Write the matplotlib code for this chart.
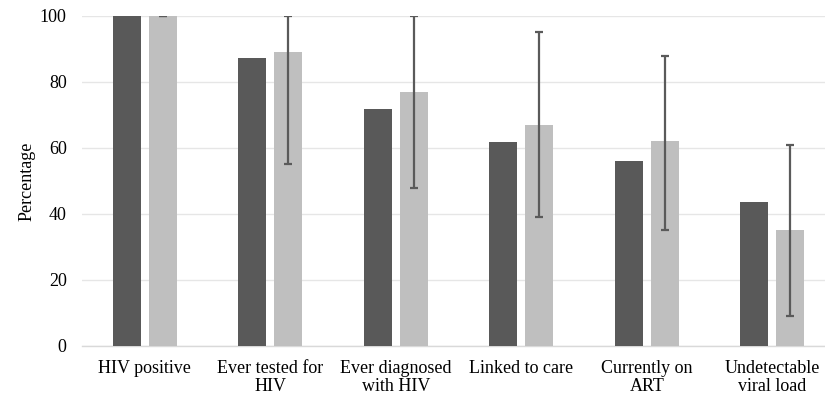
import matplotlib
matplotlib.use("Agg")
import matplotlib.pyplot as plt
import numpy as np

categories = ["HIV positive", "Ever tested for\nHIV", "Ever diagnosed\nwith HIV",
              "Linked to care", "Currently on\nART", "Undetectable\nviral load"]
series_a = [100, 87.3, 71.7, 61.7, 56.1, 43.5]
series_b = [100, 89, 77, 67, 62, 35]
err_low = [100, 55, 48, 39, 35, 9]
err_high = [100, 100, 100, 95, 88, 61]
yticks = [0, 20, 40, 60, 80, 100]

plt.rcParams['font.family'] = ['Liberation Serif', 'DejaVu Serif']

fig = plt.figure(figsize=(8.25, 3.96), dpi=100)
ax = fig.add_axes([82/825, (396-346)/396, (825-82)/825, (346-16)/396])

x = np.arange(len(categories))
w = 0.223
off = 0.145
ax.bar(x - off, series_a, w, color="#595959", zorder=3)
ax.bar(x + off, series_b, w, color="#BFBFBF", zorder=3)
b = np.array(series_b)
yerr = np.vstack([b - np.array(err_low), np.array(err_high) - b])
ax.errorbar(x + off, series_b, yerr=yerr, fmt='none', ecolor="#5a5a5a",
            elinewidth=1.6, capsize=3, capthick=1.6, zorder=4)

fs = 13
ax.set_xlim(-0.5, 5.42)
ax.set_ylim(0, 100)
ax.set_yticks(yticks)
ax.set_xticks(x)
ax.set_xticklabels(categories, fontsize=fs, linespacing=1.12)
ax.tick_params(axis='both', length=0, labelsize=fs, colors="#000000")
ax.tick_params(axis='x', pad=10)
ax.tick_params(axis='y', pad=11)
ax.yaxis.grid(True, color="#E6E6E6", linewidth=1, zorder=0)
ax.set_axisbelow(True)
for s in ["top", "right", "left"]:
    ax.spines[s].set_visible(False)
ax.spines["bottom"].set_color("#D9D9D9")
ax.spines["bottom"].set_linewidth(1)
ax.set_ylabel("Percentage", fontsize=fs, labelpad=3)

fig.savefig("out.png", dpi=100)
